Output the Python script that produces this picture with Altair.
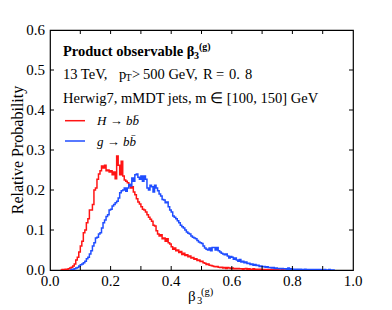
import altair as alt
import pandas as pd

BIN = 0.005
RED_START = 0.040
RED = [0.001,0.001,0.002,0.002,0.003,0.005,0.007,0.010,0.015,0.025,
       0.032,0.045,0.060,0.072,0.093,0.100,0.118,0.128,0.150,0.150,
       0.164,0.200,0.205,0.227,0.240,0.248,0.260,0.255,0.262,0.248,
       0.250,0.245,0.248,0.238,0.245,0.228,0.285,0.262,0.238,0.272,
       0.235,0.225,0.222,0.218,0.214,0.205,0.208,0.195,0.188,0.178,
       0.170,0.165,0.158,0.152,0.150,0.145,0.138,0.132,0.127,0.122,
       0.112,0.110,0.098,0.090,0.085,0.088,0.078,0.080,0.072,0.078,
       0.068,0.065,0.058,0.052,0.055,0.048,0.050,0.044,0.046,0.039,
       0.042,0.036,0.038,0.033,0.035,0.030,0.031,0.027,0.028,0.024,
       0.025,0.021,0.022,0.018,0.017,0.014,0.015,0.012,0.011,0.010,
       0.009,0.008,0.009,0.007,0.006,0.007,0.005,0.006,0.004,0.006,
       0.005,0.004,0.005,0.003,0.004,0.003,0.004,0.003,0.003,0.002,
       0.003,0.004,0.002,0.003,0.002,0.002,0.003,0.002,0.001,0.002,
       0.001,0.002,0.001,0.001,0.000,0.001,0.001,0.000,0.001,0.000,
       0.001,0.000,0.001,0.000,0.000,0.001,0.000,0.000,0.000,0.000]
BLUE_START = 0.070
BLUE = [0.001,0.002,0.003,0.005,0.006,0.010,0.013,0.015,0.018,0.022,
        0.028,0.032,0.040,0.048,0.060,0.068,0.080,0.082,0.090,0.093,
        0.105,0.118,0.125,0.134,0.138,0.150,0.152,0.160,0.164,0.168,
        0.172,0.180,0.193,0.198,0.200,0.205,0.197,0.205,0.214,0.210,
        0.230,0.222,0.238,0.240,0.232,0.227,0.235,0.222,0.235,0.227,
        0.205,0.200,0.212,0.208,0.195,0.212,0.205,0.198,0.190,0.185,
        0.176,0.175,0.168,0.170,0.158,0.150,0.145,0.135,0.132,0.128,
        0.123,0.118,0.112,0.108,0.105,0.100,0.095,0.092,0.090,0.085,
        0.082,0.080,0.078,0.074,0.070,0.068,0.066,0.060,0.055,0.052,
        0.050,0.055,0.048,0.056,0.056,0.050,0.056,0.048,0.045,0.042,
        0.040,0.038,0.040,0.035,0.030,0.034,0.032,0.027,0.030,0.025,
        0.022,0.026,0.020,0.022,0.018,0.020,0.016,0.017,0.014,0.015,
        0.012,0.014,0.011,0.012,0.009,0.010,0.008,0.009,0.007,0.008,
        0.006,0.006,0.005,0.006,0.004,0.005,0.004,0.004,0.003,0.004,
        0.003,0.003,0.002,0.005,0.002,0.003,0.002,0.002,0.001,0.002,
        0.001,0.002,0.001,0.001,0.002,0.001,0.001,0.000,0.001,0.001,
        0.000,0.001,0.000,0.001,0.001,0.000,0.000,0.001,0.000,0.000,
        0.001,0.000,0.000,0.000]

X_TICKS = [0.0, 0.2, 0.4, 0.6, 0.8, 1.0]
X_LABELS = ["0.0", "0.2", "0.4", "0.6", "0.8", "1.0"]
Y_TICKS = [0.0, 0.1, 0.2, 0.3, 0.4, 0.5, 0.6]
Y_LABELS = ["0.0", "0.1", "0.2", "0.3", "0.4", "0.5", "0.6"]
X_MINOR = [0.1, 0.2, 0.3, 0.4, 0.5, 0.6, 0.7, 0.8, 0.9]
Y_MINOR = [0.1, 0.2, 0.3, 0.4, 0.5]

RED_C = "#ff1414"
BLUE_C = "#1f4dff"
FONT = "Liberation Serif"
OX, OY = 50, 30  # plot origin on page

def steps(start, vals):
    xs = [round(start - BIN, 4)] + [round(start + i * BIN, 4) for i in range(len(vals))] + [round(start + len(vals) * BIN, 4)]
    ys = [0.0] + list(vals) + [0.0]
    return pd.DataFrame({"x": xs, "y": ys})


xs = alt.Scale(domain=[0, 1], nice=False, zero=False)
ys = alt.Scale(domain=[0, 0.6], nice=False)
bx = alt.X("x:Q", scale=xs, axis=None)
by = alt.Y("y:Q", scale=ys, axis=None)

red = alt.Chart(steps(RED_START, RED)).mark_line(
    interpolate="step-after", color=RED_C, strokeWidth=1.5, clip=True
).encode(x=bx, y=by)
blue = alt.Chart(steps(BLUE_START, BLUE)).mark_line(
    interpolate="step-after", color=BLUE_C, strokeWidth=1.5, clip=True
).encode(x=bx, y=by)

# inner ticks
TL_Y = 4 / 400.0
TL_X = 4 / 303.0
xt = pd.DataFrame({"x": X_MINOR})
tick_b = alt.Chart(xt).mark_rule(color="black", strokeWidth=1).encode(
    x=bx, y=alt.datum(0.0, scale=ys, axis=None), y2=alt.datum(TL_Y))
tick_t = alt.Chart(xt).mark_rule(color="black", strokeWidth=1).encode(
    x=bx, y=alt.datum(0.6, scale=ys, axis=None), y2=alt.datum(0.6 - TL_Y))
yt = pd.DataFrame({"y": Y_MINOR})
tick_l = alt.Chart(yt).mark_rule(color="black", strokeWidth=1).encode(
    y=by, x=alt.datum(0.0, scale=xs, axis=None), x2=alt.datum(TL_X))
tick_r = alt.Chart(yt).mark_rule(color="black", strokeWidth=1).encode(
    y=by, x=alt.datum(1.0, scale=xs, axis=None), x2=alt.datum(1 - TL_X))

# tick labels
xlab = alt.Chart(pd.DataFrame({"x": X_TICKS, "t": X_LABELS})).mark_text(
    font=FONT, fontSize=15, color="black", align="center", baseline="middle"
).encode(x=bx, y=alt.value(250.5), text="t:N")
ylab = alt.Chart(pd.DataFrame({"y": Y_TICKS, "t": Y_LABELS})).mark_text(
    font=FONT, fontSize=15, color="black", align="right", baseline="middle"
).encode(y=by, x=alt.value(-5), text="t:N")
ytitle = alt.Chart(pd.DataFrame({"t": ["Relative Probability"]})).mark_text(
    font=FONT, fontSize=16, color="black", align="center", baseline="middle", angle=270
).encode(x=alt.value(18 - OX), y=alt.value(150 - OY), text="t:N")


def txt(s, X, Y, size=14.5, weight="normal", style="normal", color="black"):
    return alt.Chart(pd.DataFrame({"t": [s]})).mark_text(
        align="left", baseline="alphabetic", font=FONT, fontSize=size,
        fontWeight=weight, fontStyle=style, color=color
    ).encode(x=alt.value(X - OX), y=alt.value(Y - OY), text="t:N")


def seg(X1, X2, Y, color):
    return alt.Chart(pd.DataFrame({"a": [0]})).mark_rule(color=color, strokeWidth=1.5).encode(
        x=alt.value(X1 - OX), x2=alt.value(X2 - OX), y=alt.value(Y - OY))


texts = [
    txt("Product observable β", 63, 55.5, weight="bold"),
    txt("3", 194, 58.5, size=10, weight="bold"),
    txt("(g)", 199, 50, size=10, weight="bold"),
    txt("13 TeV,", 63, 78.5),
    txt("p", 119, 78.5),
    txt("T", 125.5, 81, size=10),
    txt(">", 132, 78.5),
    txt("500 GeV,", 143, 78.5),
    txt("R", 203, 78.5),
    txt("=", 216, 78.5),
    txt("0.", 229, 78.5),
    txt("8", 245, 78.5),
    txt("Herwig7,  mMDT jets,  m ∈ [100, 150] GeV", 63, 102.5),
    seg(65, 85, 120.7, RED_C),
    txt("H → bb\u0304", 97, 125, size=13, style="italic"),
    seg(65, 85, 141, BLUE_C),
    txt("g → bb\u0304", 97, 145.5, size=13, style="italic"),
    txt("β", 188, 301, size=15),
    txt("3", 197, 304, size=10.5),
    txt("(g)", 201, 295, size=10.5),
]

chart = alt.layer(red, blue, tick_b, tick_t, tick_l, tick_r, xlab, ylab, ytitle, *texts).properties(
    width=303, height=240,
    padding={"left": 42, "top": 22, "right": 30, "bottom": 40},
    autosize=alt.AutoSizeParams(type="none"),
).configure_view(stroke="black", strokeWidth=1.2)

chart.save("out.html", embed_options={"renderer": "svg", "actions": False})
